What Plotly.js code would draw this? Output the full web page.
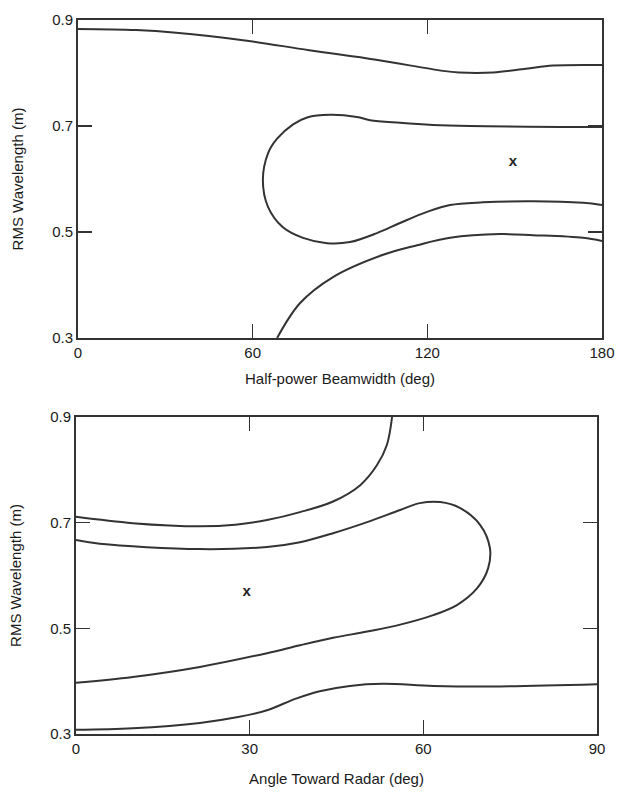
<!DOCTYPE html>
<html>
<head>
<meta charset="utf-8">
<script src="https://cdn.plot.ly/plotly-3.0.1.min.js"></script>
<style>html,body{margin:0;padding:0;background:#fff;}#chart{width:617px;height:792px;}</style>
</head>
<body>
<div id="chart"></div>
<script>
// ---- Top panel: Half-power Beamwidth (deg) vs RMS Wavelength (m) ----
const topXTicks = [0, 60, 120, 180];
const topYTicks = [0.3, 0.5, 0.7, 0.9];

const topUpperX = [0, 19.9, 33.7, 56.7, 79.4, 102.4, 125.4, 130.9, 142.6, 153.9, 163.2, 180];
const topUpperY = [0.883, 0.881, 0.876, 0.862, 0.843, 0.825, 0.804, 0.801, 0.801, 0.808, 0.814, 0.815];

const topLoopX = [180, 134.7, 121.9, 110.6, 100.3, 95.8, 86.6, 78.7, 73.9, 68.4, 65.3, 63.5, 65.3, 70.4, 77.3, 85.5, 93.4, 102.7, 110.6, 119.9, 127.8, 139.1, 156.3, 173.5, 180];
const topLoopY = [0.698, 0.700, 0.702, 0.706, 0.711, 0.717, 0.721, 0.716, 0.703, 0.676, 0.649, 0.598, 0.547, 0.509, 0.489, 0.479, 0.481, 0.498, 0.517, 0.538, 0.551, 0.556, 0.558, 0.555, 0.551];

const topLowerX = [68.4, 76.3, 87.6, 104.8, 116.5, 127.8, 145.0, 156.3, 173.5, 180];
const topLowerY = [0.300, 0.366, 0.415, 0.457, 0.475, 0.489, 0.496, 0.494, 0.489, 0.483];

const topMarkX = [149.4];
const topMarkY = [0.632];

// ---- Bottom panel: Angle Toward Radar (deg) vs RMS Wavelength (m) ----
const botXTicks = [0, 30, 60, 90];
const botYTicks = [0.3, 0.5, 0.7, 0.9];

const botUpperX = [0, 9.8, 21.4, 27.5, 33.0, 38.7, 44.4, 49.1, 52.0, 53.7, 54.6];
const botUpperY = [0.711, 0.699, 0.693, 0.696, 0.705, 0.720, 0.740, 0.771, 0.809, 0.847, 0.900];

const botLoopX = [0, 4.1, 21.4, 33.0, 38.7, 44.4, 50.3, 56.0, 59.4, 62.9, 66.3, 69.8, 71.5, 71.2, 69.3, 65.8, 61.7, 56.0, 50.3, 44.4, 38.7, 33.0, 21.4, 9.8, 0];
const botLoopY = [0.667, 0.660, 0.650, 0.654, 0.663, 0.680, 0.701, 0.724, 0.737, 0.739, 0.728, 0.696, 0.652, 0.614, 0.576, 0.544, 0.525, 0.507, 0.494, 0.482, 0.468, 0.453, 0.427, 0.408, 0.397];

const botLowerX = [0, 9.8, 21.4, 28.0, 33.0, 38.0, 42.1, 47.3, 53.0, 61.7, 73.2, 90];
const botLowerY = [0.308, 0.311, 0.321, 0.332, 0.345, 0.367, 0.381, 0.391, 0.395, 0.391, 0.390, 0.394];

const botMarkX = [29.5];
const botMarkY = [0.569];

const ink = '#333333';
const lineStyle = {color: ink, width: 2, shape: 'spline', smoothing: 1};

function curve(x, y, xa, ya) {
  return {x: x, y: y, xaxis: xa, yaxis: ya, type: 'scatter', mode: 'lines', line: lineStyle, hoverinfo: 'skip'};
}
function mark(x, y, xa, ya) {
  return {x: x, y: y, xaxis: xa, yaxis: ya, type: 'scatter', mode: 'text', text: ['x'],
    textfont: {family: 'Liberation Sans, Arial, sans-serif', size: 15, color: '#222', weight: 'bold'}, textposition: 'middle center', hoverinfo: 'skip'};
}

const data = [
  curve(topUpperX, topUpperY, 'x', 'y'),
  curve(topLoopX, topLoopY, 'x', 'y'),
  curve(topLowerX, topLowerY, 'x', 'y'),
  mark(topMarkX, topMarkY, 'x', 'y'),
  curve(botUpperX, botUpperY, 'x2', 'y2'),
  curve(botLoopX, botLoopY, 'x2', 'y2'),
  curve(botLowerX, botLowerY, 'x2', 'y2'),
  mark(botMarkX, botMarkY, 'x2', 'y2')
];

const tickFont = {family: 'Liberation Sans, Arial, sans-serif', size: 15, color: '#1a1a1a'};
const titleFont = {family: 'Liberation Sans, Arial, sans-serif', size: 15, color: '#1a1a1a'};

function axisBase(extra) {
  return Object.assign({
    showgrid: false, zeroline: false, showline: true, linecolor: ink, linewidth: 2,
    mirror: 'ticks', ticks: 'inside', ticklen: 14, tickwidth: 1.5, tickcolor: ink,
    tickfont: tickFont, fixedrange: true
  }, extra);
}

const W = 617, H = 792;
const layout = {
  width: W, height: H,
  margin: {l: 0, r: 0, t: 0, b: 0},
  paper_bgcolor: '#fff', plot_bgcolor: '#fff',
  showlegend: false,
  xaxis: axisBase({domain: [78 / W, 602 / W], range: [0, 180], anchor: 'y',
    tickvals: topXTicks, ticktext: topXTicks.map(String),
    title: {text: 'Half-power Beamwidth (deg)', font: titleFont, standoff: 13}}),
  yaxis: axisBase({domain: [1 - 338 / H, 1 - 20 / H], range: [0.3, 0.9], anchor: 'x',
    tickvals: topYTicks, ticktext: topYTicks.map(v => v.toFixed(1)),
    title: {text: 'RMS Wavelength (m)', font: titleFont, standoff: 25}}),
  xaxis2: axisBase({domain: [76 / W, 597 / W], range: [0, 90], anchor: 'y2',
    tickvals: botXTicks, ticktext: botXTicks.map(String),
    title: {text: 'Angle Toward Radar (deg)', font: titleFont, standoff: 17}}),
  yaxis2: axisBase({domain: [1 - 734 / H, 1 - 417 / H], range: [0.3, 0.9], anchor: 'x2',
    tickvals: botYTicks, ticktext: botYTicks.map(v => v.toFixed(1)),
    title: {text: 'RMS Wavelength (m)', font: titleFont, standoff: 25}})
};

Plotly.newPlot('chart', data, layout, {staticPlot: true, displayModeBar: false});
</script>
</body>
</html>
